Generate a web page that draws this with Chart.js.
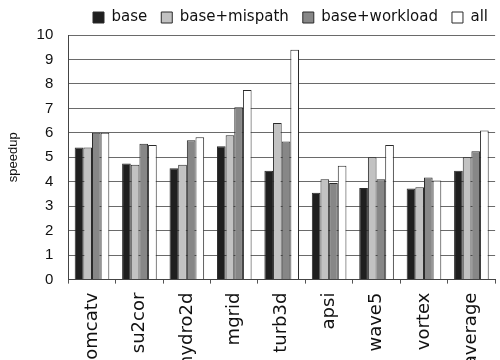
<!DOCTYPE html>
<html>
<head>
<meta charset="utf-8">
<script src="https://cdn.jsdelivr.net/npm/chart.js@4/dist/chart.umd.min.js"></script>
<style>
  html, body { margin: 0; padding: 0; background: #fff; overflow: hidden; }
  #wrap { position: relative; width: 502px; height: 376px; }
</style>
</head>
<body>
<div id="wrap"><canvas id="speedup-chart"></canvas></div>
<script>
// benchmarks on x axis
const benchmarks = ["tomcatv", "su2cor", "hydro2d", "mgrid", "turb3d", "apsi", "wave5", "vortex", "average"];

// speedup per configuration
const base         = [5.4, 4.75, 4.55, 5.45, 4.45, 3.55, 3.75, 3.72, 4.45];
const baseMispath  = [5.4, 4.7, 4.7, 5.9, 6.4, 4.1, 5.0, 3.78, 5.0];
const baseWorkload = [6.0, 5.55, 5.7, 7.05, 5.65, 3.95, 4.1, 4.17, 5.25];
const allOpts      = [6.0, 5.5, 5.82, 7.75, 9.4, 4.65, 5.5, 4.05, 6.1];

const yTicks = [0, 1, 2, 3, 4, 5, 6, 7, 8, 9, 10];

function makeSet(label, data, color) {
  return {
    label: label,
    data: data,
    backgroundColor: color,
    borderColor: "#2a2a2a",
    borderWidth: 1,
    categoryPercentage: 0.73,
    barPercentage: 1.0,
  };
}

const ctx = document.getElementById("speedup-chart");
const chart = new Chart(ctx, {
  type: "bar",
  data: {
    labels: benchmarks,
    datasets: [
      makeSet("base", base, "#1f1f1f"),
      makeSet("base+mispath", baseMispath, "#c2c2c2"),
      makeSet("base+workload", baseWorkload, "#878787"),
      makeSet("all", allOpts, "#ffffff"),
    ],
  },
  options: {
    responsive: true,
    maintainAspectRatio: false,
    animation: false,
    layout: { padding: { left: 0, right: 0, top: -4, bottom: 0 } },
    plugins: {
      tooltip: { enabled: false },
      legend: {
        position: "top",
        align: "end",
        labels: {
          boxWidth: 11,
          boxHeight: 11,
          padding: 14,
          color: "#111",
          font: { family: "DejaVu Sans", size: 15 },
        },
      },
    },
    scales: {
      x: {
        grid: { display: true, drawOnChartArea: false, drawTicks: true, tickLength: 4, color: "#555" },
        border: { color: "#444", width: 1 },
        ticks: {
          color: "#111",
          minRotation: 90,
          maxRotation: 90,
          padding: 9,
          font: { family: "DejaVu Sans", size: 18 },
        },
      },
      y: {
        min: 0,
        max: 10,
        afterBuildTicks: (axis) => { axis.ticks = yTicks.map(v => ({ value: v })); },
        grid: { color: "#6a6a6a", lineWidth: 1, drawTicks: false },
        border: { color: "#444", width: 1 },
        ticks: {
          color: "#111",
          padding: 15,
          font: { family: "Liberation Sans", size: 15 },
        },
        title: {
          display: true,
          text: "speedup",
          color: "#111",
          padding: { top: 6, bottom: 0 },
          font: { family: "Liberation Sans", size: 13 },
        },
      },
    },
  },
});
</script>
</body>
</html>
